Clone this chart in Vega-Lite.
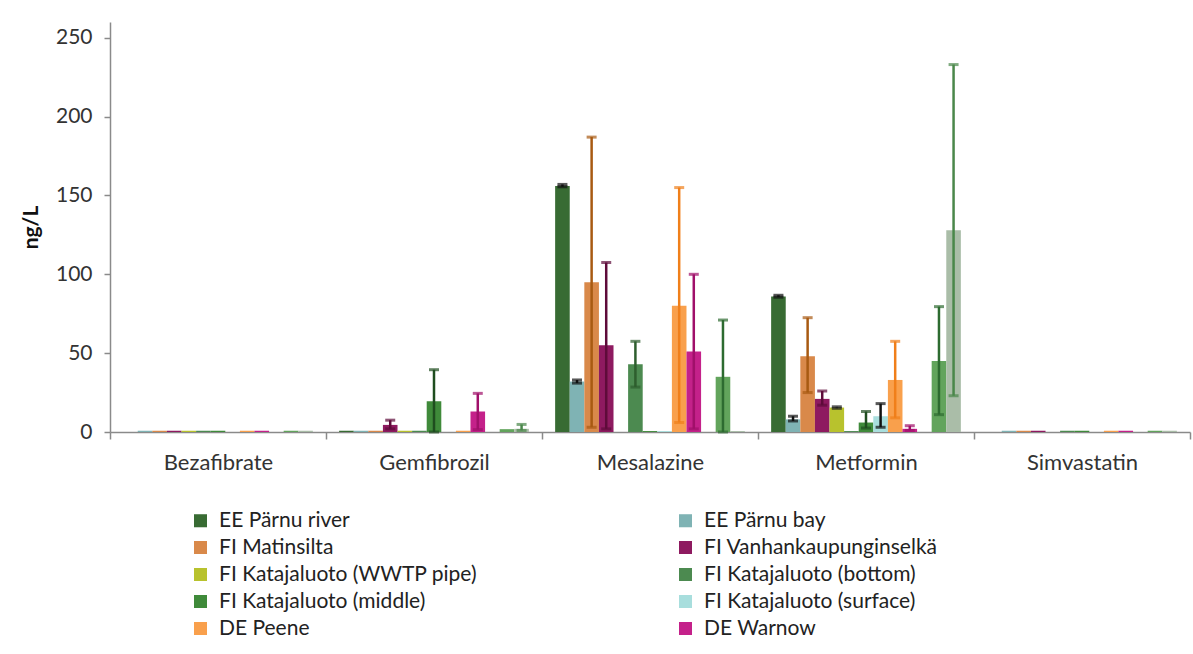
{
  "$schema": "https://vega.github.io/schema/vega-lite/v6.json",
  "autosize": {"type": "none"},
  "width": 1080,
  "height": 410,
  "padding": {"left": 110, "top": 22, "right": 3, "bottom": 222},
  "background": "white",
  "config": {
    "font": "Lato",
    "view": {"stroke": null},
    "axis": {"labelFont": "Lato", "titleFont": "Lato", "domainColor": "#8a8a8a", "tickColor": "#8a8a8a", "domainWidth": 1.5, "tickWidth": 1.5, "grid": false}
  },
  "datasets": {
    "bars": [
      {"drug": "Bezafibrate", "site": "EE Pärnu bay", "value": 0.8},
      {"drug": "Bezafibrate", "site": "FI Matinsilta", "value": 0.8},
      {"drug": "Bezafibrate", "site": "FI Vanhankaupunginselkä", "value": 0.8},
      {"drug": "Bezafibrate", "site": "FI Katajaluoto (WWTP pipe)", "value": 0.8},
      {"drug": "Bezafibrate", "site": "FI Katajaluoto (bottom)", "value": 0.8},
      {"drug": "Bezafibrate", "site": "FI Katajaluoto (middle)", "value": 0.8},
      {"drug": "Bezafibrate", "site": "DE Peene", "value": 0.8},
      {"drug": "Bezafibrate", "site": "DE Warnow", "value": 0.8},
      {"drug": "Bezafibrate", "site": "Site 12", "value": 0.8},
      {"drug": "Bezafibrate", "site": "Site 13", "value": 0.8},
      {"drug": "Gemfibrozil", "site": "EE Pärnu river", "value": 0.8},
      {"drug": "Gemfibrozil", "site": "EE Pärnu bay", "value": 0.8},
      {"drug": "Gemfibrozil", "site": "FI Matinsilta", "value": 0.8},
      {"drug": "Gemfibrozil", "site": "FI Vanhankaupunginselkä", "value": 4.5, "lo": 2, "hi": 7.5},
      {"drug": "Gemfibrozil", "site": "FI Katajaluoto (WWTP pipe)", "value": 0.8},
      {"drug": "Gemfibrozil", "site": "FI Katajaluoto (bottom)", "value": 0.8},
      {"drug": "Gemfibrozil", "site": "FI Katajaluoto (middle)", "value": 19.5, "lo": 0, "hi": 39.5},
      {"drug": "Gemfibrozil", "site": "DE Peene", "value": 0.8},
      {"drug": "Gemfibrozil", "site": "DE Warnow", "value": 13, "lo": 1.5, "hi": 24.5},
      {"drug": "Gemfibrozil", "site": "Site 12", "value": 1.8},
      {"drug": "Gemfibrozil", "site": "Site 13", "value": 2, "lo": 1, "hi": 4.8},
      {"drug": "Mesalazine", "site": "EE Pärnu river", "value": 156, "lo": 155.5, "hi": 157},
      {"drug": "Mesalazine", "site": "EE Pärnu bay", "value": 32, "lo": 31, "hi": 33},
      {"drug": "Mesalazine", "site": "FI Matinsilta", "value": 95, "lo": 3, "hi": 187},
      {"drug": "Mesalazine", "site": "FI Vanhankaupunginselkä", "value": 55, "lo": 2, "hi": 107.5},
      {"drug": "Mesalazine", "site": "FI Katajaluoto (bottom)", "value": 43, "lo": 28.5, "hi": 57.5},
      {"drug": "Mesalazine", "site": "FI Katajaluoto (middle)", "value": 0.6},
      {"drug": "Mesalazine", "site": "FI Katajaluoto (surface)", "value": 0.6},
      {"drug": "Mesalazine", "site": "DE Peene", "value": 80, "lo": 6, "hi": 155},
      {"drug": "Mesalazine", "site": "DE Warnow", "value": 51, "lo": 2, "hi": 100},
      {"drug": "Mesalazine", "site": "Site 12", "value": 35, "lo": 0, "hi": 71},
      {"drug": "Mesalazine", "site": "Site 13", "value": 0.6},
      {"drug": "Metformin", "site": "EE Pärnu river", "value": 86, "lo": 85.5, "hi": 86.7},
      {"drug": "Metformin", "site": "EE Pärnu bay", "value": 8, "lo": 7, "hi": 10},
      {"drug": "Metformin", "site": "FI Matinsilta", "value": 48, "lo": 25, "hi": 72.5},
      {"drug": "Metformin", "site": "FI Vanhankaupunginselkä", "value": 21, "lo": 17, "hi": 26},
      {"drug": "Metformin", "site": "FI Katajaluoto (WWTP pipe)", "value": 15.5, "lo": 15, "hi": 16},
      {"drug": "Metformin", "site": "FI Katajaluoto (bottom)", "value": 0.6},
      {"drug": "Metformin", "site": "FI Katajaluoto (middle)", "value": 6, "lo": 2.5, "hi": 13},
      {"drug": "Metformin", "site": "FI Katajaluoto (surface)", "value": 10, "lo": 3, "hi": 18},
      {"drug": "Metformin", "site": "DE Peene", "value": 33, "lo": 9, "hi": 57.5},
      {"drug": "Metformin", "site": "DE Warnow", "value": 2, "lo": 1, "hi": 4},
      {"drug": "Metformin", "site": "Site 12", "value": 45, "lo": 11, "hi": 79.5},
      {"drug": "Metformin", "site": "Site 13", "value": 128, "lo": 23, "hi": 233},
      {"drug": "Simvastatin", "site": "EE Pärnu bay", "value": 0.8},
      {"drug": "Simvastatin", "site": "FI Matinsilta", "value": 0.8},
      {"drug": "Simvastatin", "site": "FI Vanhankaupunginselkä", "value": 0.8},
      {"drug": "Simvastatin", "site": "FI Katajaluoto (bottom)", "value": 0.8},
      {"drug": "Simvastatin", "site": "FI Katajaluoto (middle)", "value": 0.8},
      {"drug": "Simvastatin", "site": "DE Peene", "value": 0.8},
      {"drug": "Simvastatin", "site": "DE Warnow", "value": 0.8},
      {"drug": "Simvastatin", "site": "Site 12", "value": 0.8},
      {"drug": "Simvastatin", "site": "Site 13", "value": 0.8}
    ]
  },
  "data": {"name": "bars"},
  "encoding": {
    "x": {
      "field": "drug", "type": "nominal", "sort": null,
      "scale": {"paddingInner": 0, "paddingOuter": 0},
      "axis": {"title": null, "labelAngle": 0, "tickBand": "extent", "tickSize": 7, "labelPadding": 13, "labelFontSize": 22, "labelColor": "#333333"}
    },
    "xOffset": {
      "field": "site", "type": "nominal",
      "scale": {"domain": ["EE Pärnu river", "EE Pärnu bay", "FI Matinsilta", "FI Vanhankaupunginselkä", "FI Katajaluoto (WWTP pipe)", "FI Katajaluoto (bottom)", "FI Katajaluoto (middle)", "FI Katajaluoto (surface)", "DE Peene", "DE Warnow", "Site 11", "Site 12", "Site 13"], "paddingInner": 0, "paddingOuter": 0.9}
    }
  },
  "layer": [
    {
      "mark": {"type": "bar"},
      "encoding": {
        "y": {
          "field": "value", "type": "quantitative",
          "scale": {"domain": [0, 250]},
          "axis": {"title": "ng/L", "titleFontSize": 21, "titleFontWeight": "bold", "titleColor": "#111111", "titlePadding": 14, "values": [0, 50, 100, 150, 200, 250], "tickSize": 6, "labelPadding": 12, "labelFontSize": 21, "labelColor": "#333333"}
        },
        "color": {
          "field": "site", "type": "nominal",
          "scale": {
            "domain": ["EE Pärnu river", "EE Pärnu bay", "FI Matinsilta", "FI Vanhankaupunginselkä", "FI Katajaluoto (WWTP pipe)", "FI Katajaluoto (bottom)", "FI Katajaluoto (middle)", "FI Katajaluoto (surface)", "DE Peene", "DE Warnow", "Site 11", "Site 12", "Site 13"],
            "range": ["#386b33", "#7fb3b4", "#d9894a", "#8e1a60", "#b8c22d", "#4c8a50", "#3f8a3a", "#a8dedd", "#f9a04c", "#c4218a", "#999999", "#62a45c", "#aabda8"]
          },
          "legend": {
            "title": null,
            "values": ["EE Pärnu river", "FI Matinsilta", "FI Katajaluoto (WWTP pipe)", "FI Katajaluoto (middle)", "DE Peene", "EE Pärnu bay", "FI Vanhankaupunginselkä", "FI Katajaluoto (bottom)", "FI Katajaluoto (surface)", "DE Warnow"],
            "orient": "none", "legendX": 80, "legendY": 488,
            "columns": 2, "columnPadding": 197, "rowPadding": 5,
            "symbolType": "square", "symbolSize": 170, "symbolStrokeWidth": 0,
            "labelFontSize": 21, "labelColor": "#222222", "labelOffset": 8, "labelLimit": 400
          }
        }
      }
    },
    {
      "transform": [{"filter": "isValid(datum.hi)"}],
      "encoding": {
        "color": {
          "field": "site", "type": "nominal", "legend": null,
          "scale": {
            "domain": ["EE Pärnu river", "EE Pärnu bay", "FI Matinsilta", "FI Vanhankaupunginselkä", "FI Katajaluoto (WWTP pipe)", "FI Katajaluoto (bottom)", "FI Katajaluoto (middle)", "FI Katajaluoto (surface)", "DE Peene", "DE Warnow", "Site 11", "Site 12", "Site 13"],
            "range": ["#111111", "#111111", "#a85a12", "#5e0b3a", "#222222", "#2e5e2e", "#1f4d1f", "#111111", "#f07f1a", "#a0106a", "#444444", "#2d6b30", "#4a874a"]
          }
        }
      },
      "layer": [
        {"mark": {"type": "rule", "strokeWidth": 2.5}, "encoding": {"y": {"field": "lo", "type": "quantitative"}, "y2": {"field": "hi"}}},
        {"mark": {"type": "tick", "thickness": 3, "size": 10}, "encoding": {"y": {"field": "hi", "type": "quantitative"}}},
        {"mark": {"type": "tick", "thickness": 3, "size": 10}, "encoding": {"y": {"field": "lo", "type": "quantitative"}}}
      ]
    }
  ],
  "resolve": {"scale": {"color": "independent"}}
}
